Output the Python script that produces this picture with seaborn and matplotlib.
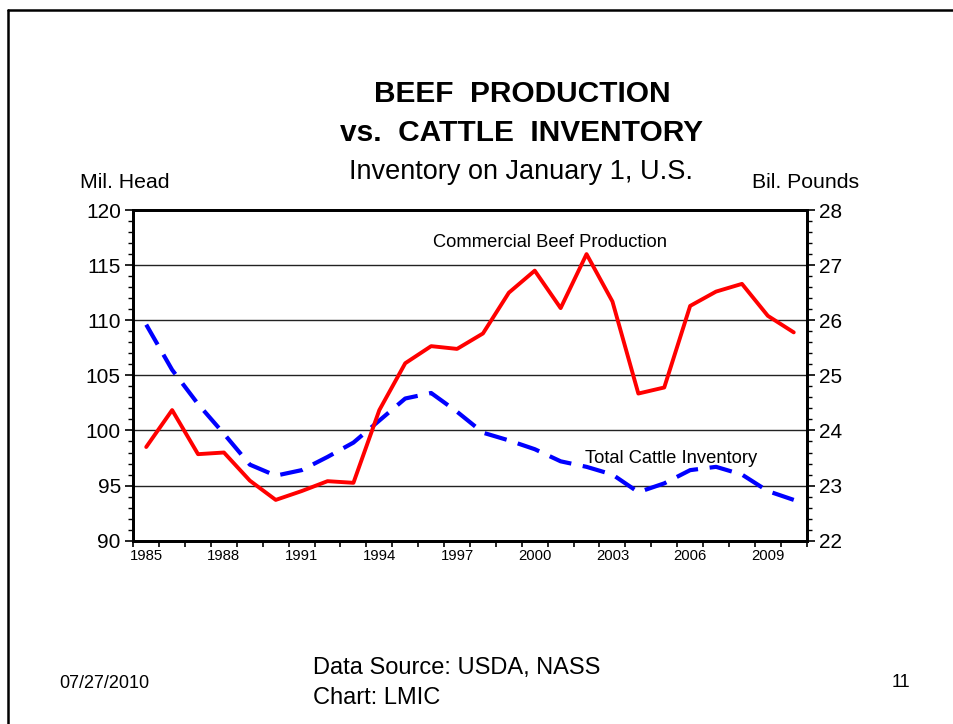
import numpy as np
import pandas as pd
import matplotlib
matplotlib.use("Agg")
import matplotlib.pyplot as plt
import seaborn as sns
from matplotlib.lines import Line2D
from matplotlib.ticker import MultipleLocator

# Data
years = list(range(1985, 2011))
cattle_inventory = [109.6, 105.5, 102.4, 99.7, 96.9, 95.9, 96.4, 97.6, 98.9, 100.9,
                    102.9, 103.4, 101.7, 99.8, 99.1, 98.3, 97.2, 96.7, 96.0, 94.4,
                    95.2, 96.4, 96.7, 96.0, 94.5, 93.7]
beef_production = [23.70, 24.37, 23.57, 23.60, 23.09, 22.74, 22.90, 23.08, 23.05, 24.37,
                   25.22, 25.53, 25.48, 25.76, 26.50, 26.90, 26.22, 27.20, 26.34, 24.67,
                   24.78, 26.26, 26.52, 26.66, 26.08, 25.78]
label_years = list(range(1985, 2010, 3))

df = pd.DataFrame({"Year": years, "Inventory": cattle_inventory, "Production": beef_production})

sns.set_style("white")
plt.rcParams['font.family'] = ['Liberation Sans', 'DejaVu Sans']
plt.rcParams['text.color'] = 'black'
plt.rcParams['xtick.color'] = 'black'
plt.rcParams['ytick.color'] = 'black'
plt.rcParams['axes.labelcolor'] = 'black'

fig = plt.figure(figsize=(9.54, 7.24), dpi=100)
ax = fig.add_axes([0.1397, 0.2532, 0.7059, 0.4567])
ax2 = ax.twinx()

# --- Lines ---
sns.lineplot(data=df, x="Year", y="Inventory", ax=ax, color="#0000FF",
             linewidth=3.0, zorder=3)
ax.lines[-1].set_dashes((5.5, 2.8))
sns.lineplot(data=df, x="Year", y="Production", ax=ax2, color="#FF0000",
             linewidth=2.8, zorder=3)

# --- Left axis ---
ax.set_xlim(1984.5, 2010.5)
ax.set_ylim(90, 120)
ax.yaxis.set_major_locator(MultipleLocator(5))
ax.yaxis.set_minor_locator(MultipleLocator(1))
ax.set_xticks(label_years)
ax.set_xticklabels([str(y) for y in label_years])
ax.set_xticks(np.arange(1984.5, 2011, 1), minor=True)
ax.tick_params(axis="x", which="major", length=0, pad=6, labelsize=10.7)
ax.tick_params(axis="x", which="minor", length=4, width=1.2, direction="out", bottom=True)
ax.tick_params(axis="y", which="major", length=6, width=1.2, direction="out", pad=3,
               labelsize=15, left=True)
ax.tick_params(axis="y", which="minor", length=3.5, width=1.0, direction="out", left=True)
ax.set_xlabel("")
ax.set_ylabel("")
ax.grid(axis="y", which="major", color="#222222", linewidth=1.0)
ax.set_axisbelow(True)

# --- Right axis ---
ax2.set_ylim(22, 28)
ax2.yaxis.set_major_locator(MultipleLocator(1))
ax2.yaxis.set_minor_locator(MultipleLocator(0.2))
ax2.tick_params(axis="y", which="major", length=6, width=1.2, direction="out", pad=3,
                labelsize=15, right=True)
ax2.tick_params(axis="y", which="minor", length=3.5, width=1.0, direction="out", right=True)
ax2.set_ylabel("")
ax2.grid(False)

for a in (ax, ax2):
    for s in a.spines.values():
        s.set_visible(True)
        s.set_color("black")
        s.set_linewidth(2.0)

# --- Annotations ---
fig.text(0.4539, 0.6657, "Commercial Beef Production", fontsize=13.2, va="center", ha="left")
fig.text(0.6132, 0.3674, "Total Cattle Inventory", fontsize=13.2, va="center", ha="left")

# --- Titles ---
fig.text(0.547, 0.870, "BEEF  PRODUCTION", fontsize=21.5, fontweight="bold", ha="center", va="center")
fig.text(0.547, 0.8163, "vs.  CATTLE  INVENTORY", fontsize=21.5, fontweight="bold", ha="center", va="center")
fig.text(0.546, 0.7624, "Inventory on January 1, U.S.", fontsize=19.5, ha="center", va="center")
fig.text(0.0839, 0.7486, "Mil. Head", fontsize=15.3, ha="left", va="center")
fig.text(0.788, 0.7486, "Bil. Pounds", fontsize=15.3, ha="left", va="center")

# --- Footer ---
fig.text(0.0618, 0.0566, "07/27/2010", fontsize=13, ha="left", va="center")
fig.text(0.3281, 0.0773, "Data Source: USDA, NASS", fontsize=17, ha="left", va="center")
fig.text(0.3281, 0.0359, "Chart: LMIC", fontsize=17, ha="left", va="center")
fig.text(0.935, 0.058, "11", fontsize=13, ha="left", va="center")

# slide border (top and left edges)
fig.add_artist(Line2D([0.0084, 1.0], [0.9862, 0.9862], transform=fig.transFigure,
                      color="black", linewidth=1.8))
fig.add_artist(Line2D([0.0084, 0.0084], [0.0, 0.9862], transform=fig.transFigure,
                      color="black", linewidth=1.8))

fig.savefig("out.png", dpi=100)
